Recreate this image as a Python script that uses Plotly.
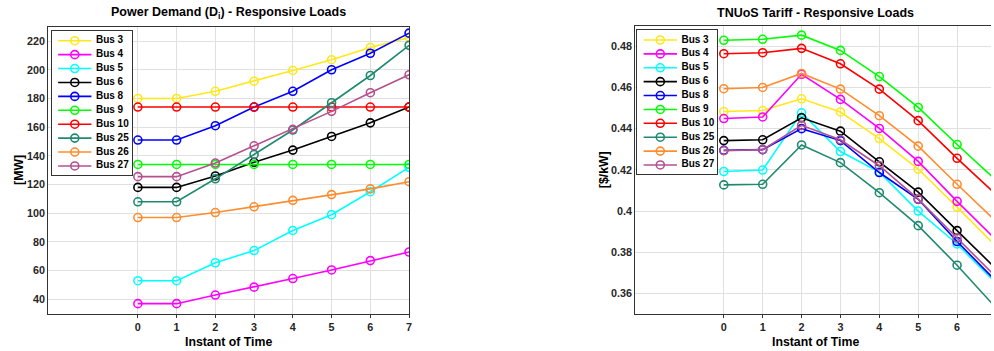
import plotly.graph_objects as go

W, H = 994, 351

# ---------------- data ----------------
instants = [0, 1, 2, 3, 4, 5, 6, 7]
bus_names = ["Bus 3", "Bus 4", "Bus 5", "Bus 6", "Bus 8", "Bus 9", "Bus 10", "Bus 25", "Bus 26", "Bus 27"]
bus_colors = ["#FFE81A", "#FF00FF", "#00FFFF", "#000000", "#0000FF", "#00FF00", "#FF0000", "#1F8A70", "#FF8C2E", "#B5508F"]

demand_bus3 = [180, 180, 185, 192, 199.5, 207, 215.5, 222.5]
demand_bus4 = [37, 37, 43, 48.5, 54.5, 60.5, 67, 73]
demand_bus5 = [53, 53, 65.5, 74, 88, 99, 115, 132]
demand_bus6 = [118, 118, 126, 135.5, 144, 153.5, 163, 174]
demand_bus8 = [151, 151, 161, 174, 185, 200, 211.5, 225.5]
demand_bus9 = [134, 134, 134, 134, 134, 134, 134, 134]
demand_bus10 = [174, 174, 174, 174, 174, 174, 174, 174]
demand_bus25 = [108, 108, 124, 141, 158, 177, 196, 217]
demand_bus26 = [97, 97, 100.5, 104.5, 109, 113, 117, 122]
demand_bus27 = [125.5, 125.5, 135, 147, 158.5, 171, 184, 196.5]

tariff_bus3 = [0.4483, 0.4488, 0.4545, 0.4481, 0.4352, 0.4204, 0.4019, 0.383]
tariff_bus4 = [0.4449, 0.4457, 0.4664, 0.4542, 0.4401, 0.4241, 0.4047, 0.386]
tariff_bus5 = [0.4192, 0.4199, 0.4477, 0.4289, 0.4189, 0.4000, 0.3840, 0.365]
tariff_bus6 = [0.4342, 0.4346, 0.4453, 0.4388, 0.4239, 0.4092, 0.3905, 0.372]
tariff_bus8 = [0.4295, 0.4298, 0.4400, 0.4342, 0.4187, 0.4057, 0.3852, 0.366]
tariff_bus9 = [0.4829, 0.4834, 0.4854, 0.4780, 0.4653, 0.4503, 0.4323, 0.415]
tariff_bus10 = [0.4764, 0.4769, 0.4790, 0.4715, 0.4592, 0.4439, 0.4256, 0.408]
tariff_bus25 = [0.4127, 0.4130, 0.4321, 0.4235, 0.4089, 0.3929, 0.3737, 0.353]
tariff_bus26 = [0.4594, 0.4600, 0.4668, 0.4592, 0.4463, 0.4315, 0.4130, 0.395]
tariff_bus27 = [0.4293, 0.4298, 0.4416, 0.4346, 0.4220, 0.4058, 0.3869, 0.368]

x_ticks = [0, 1, 2, 3, 4, 5, 6, 7]
demand_ticks = [40, 60, 80, 100, 120, 140, 160, 180, 200, 220]
tariff_ticks = [0.36, 0.38, 0.40, 0.42, 0.44, 0.46, 0.48]
tariff_ticktext = ["0.36", "0.38", "0.4", "0.42", "0.44", "0.46", "0.48"]

demand = [demand_bus3, demand_bus4, demand_bus5, demand_bus6, demand_bus8,
          demand_bus9, demand_bus10, demand_bus25, demand_bus26, demand_bus27]
tariff = [tariff_bus3, tariff_bus4, tariff_bus5, tariff_bus6, tariff_bus8,
          tariff_bus9, tariff_bus10, tariff_bus25, tariff_bus26, tariff_bus27]

# ---------------- layout helpers ----------------
FONT = "Liberation Sans, Arial, Helvetica, sans-serif"
AXC = "#333333"
GRIDC = "#E0E0E0"
TICKC = "#262626"


def px(xp):
    return xp / W


def py(yp):
    return 1 - yp / H


fig = go.Figure()

# main traces
for i, name in enumerate(bus_names):
    fig.add_trace(go.Scatter(
        x=instants, y=demand[i], mode="lines+markers", name=name,
        line=dict(color=bus_colors[i], width=1.6),
        marker=dict(symbol="circle-open", size=8, color=bus_colors[i], line=dict(width=1.6)),
        xaxis="x", yaxis="y", showlegend=False))
for i, name in enumerate(bus_names):
    fig.add_trace(go.Scatter(
        x=instants, y=tariff[i], mode="lines+markers", name=name,
        line=dict(color=bus_colors[i], width=1.6),
        marker=dict(symbol="circle-open", size=8, color=bus_colors[i], line=dict(width=1.6)),
        xaxis="x2", yaxis="y2", showlegend=False))

# custom legends as inset subplots (x3/y3 left, x4/y4 right)
legend_idx = list(range(len(bus_names)))
for xa, ya in (("x3", "y3"), ("x4", "y4")):
    for i, name in enumerate(bus_names):
        fig.add_trace(go.Scatter(
            x=[6.6, 23.3, 40], y=[i, i, i], mode="lines+markers",
            line=dict(color=bus_colors[i], width=1.6),
            marker=dict(symbol="circle-open", size=8, color=bus_colors[i],
                        opacity=[0, 1, 0], line=dict(width=1.6)),
            xaxis=xa, yaxis=ya, showlegend=False, hoverinfo="skip"))
    fig.add_trace(go.Scatter(
        x=[44.5] * len(bus_names), y=legend_idx, mode="text", text=bus_names,
        textposition="middle right",
        textfont=dict(family=FONT, size=10, color="#000000", weight="bold"),
        xaxis=xa, yaxis=ya, showlegend=False, hoverinfo="skip"))

tickfont = dict(family=FONT, size=10.8, color=TICKC, weight="bold")

common_x = dict(showline=True, linecolor=AXC, linewidth=1, showgrid=True, gridcolor=GRIDC,
                gridwidth=1, zeroline=False, tickvals=x_ticks, tickfont=tickfont,
                ticks="outside", ticklen=3, tickcolor=AXC, fixedrange=True)
common_y = dict(showline=True, linecolor=AXC, linewidth=1, showgrid=True, gridcolor=GRIDC,
                gridwidth=1, zeroline=False, tickfont=tickfont, ticks="", fixedrange=True)

legend_ax = dict(showline=True, linecolor=AXC, linewidth=1, mirror=True, showgrid=False,
                 zeroline=False, showticklabels=False, ticks="", fixedrange=True)

fig.update_layout(
    width=W, height=H, margin=dict(l=0, r=0, t=0, b=0),
    paper_bgcolor="white", plot_bgcolor="white",
    font=dict(family=FONT, color="#000000"),
    showlegend=False,
    xaxis=dict(domain=[px(48.3), px(410.3)], range=[-2.316, 7], anchor="y", mirror=True, **common_x),
    yaxis=dict(domain=[py(313.7), py(26.7)], range=[30, 230], anchor="x", mirror=True,
               tickvals=demand_ticks, **common_y),
    xaxis2=dict(domain=[px(637), 1.0], range=[-2.282, 6.872], anchor="y2", mirror=True, **common_x),
    yaxis2=dict(domain=[py(314), py(25.7)], range=[0.35, 0.49], anchor="x2", mirror=False,
                tickvals=tariff_ticks, ticktext=tariff_ticktext, **common_y),
    xaxis3=dict(domain=[px(51.7), px(132.3)], range=[0, 80.6], anchor="y3", **legend_ax),
    yaxis3=dict(domain=[py(175), py(30.7)], range=[9.65, -0.72], anchor="x3", **legend_ax),
    xaxis4=dict(domain=[px(639), px(719)], range=[0, 80], anchor="y4", **legend_ax),
    yaxis4=dict(domain=[py(174), py(30)], range=[9.65, -0.72], anchor="x4", **legend_ax),
)

titlefont = dict(family=FONT, size=12.5, color="#000000", weight="bold")
labelfont = dict(family=FONT, size=12.3, color="#000000", weight="bold")
ann = [
    dict(text="Power Demand (D<sub>i</sub>) - Responsive Loads", x=px(229.3), y=py(13),
         font=titlefont),
    dict(text="TNUoS Tariff - Responsive Loads", x=px(818), y=py(13), font=titlefont),
    dict(text="Instant of Time", x=px(229.3), y=py(342), font=labelfont),
    dict(text="Instant of Time", x=px(818), y=py(342), font=labelfont),
    dict(text="[MW]", x=px(19), y=py(170), font=labelfont, textangle=-90),
    dict(text="[$/kW]", x=px(606), y=py(170), font=labelfont, textangle=-90),
]
for a in ann:
    fig.add_annotation(xref="paper", yref="paper", showarrow=False,
                       xanchor="center", yanchor="middle", **a)

fig.write_html("out.html")
